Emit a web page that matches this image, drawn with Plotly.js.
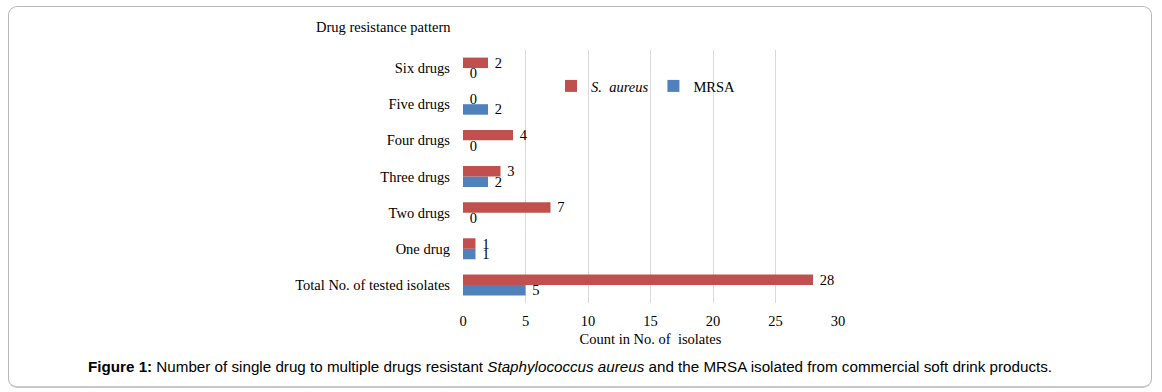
<!DOCTYPE html>
<html>
<head>
<meta charset="utf-8">
<script src="https://cdn.plot.ly/plotly-3.0.1.min.js"></script>
<style>
  html, body { margin: 0; padding: 0; background: #fff; }
  #wrap { position: relative; width: 1162px; height: 392px; }
  #chart { width: 1162px; height: 392px; }
  #frame { position: absolute; left: 8px; top: 6px; width: 1144px; height: 382px;
           border: 1px solid #b9b9b9; border-bottom: 2px solid #c8c8c8; border-radius: 9px;
           pointer-events: none; box-sizing: border-box; }
</style>
</head>
<body>
<div id="wrap">
  <div id="chart"></div>
  <div id="frame"></div>
</div>
<script>
const categories = ["Total No. of tested isolates", "One drug", "Two drugs", "Three drugs", "Four drugs", "Five drugs", "Six drugs"];
const sAureus = [28, 1, 7, 3, 4, 0, 2];
const mrsa = [5, 1, 0, 2, 0, 2, 0];
const xTicks = [0, 5, 10, 15, 20, 25, 30];

const serif = "Liberation Serif, Times New Roman, serif";
const fs = 14.5;
const pad = "\u00a0";

const traces = [
  {
    type: "bar", orientation: "h", name: "MRSA",
    y: categories, x: mrsa,
    marker: { color: "#4F81BD" },
    text: mrsa.map(v => pad + v), textposition: "outside", cliponaxis: false,
    constraintext: "none",
    textfont: { family: serif, size: fs, color: "#000" }
  },
  {
    type: "bar", orientation: "h", name: "<i>S.  aureus</i>",
    y: categories, x: sAureus,
    marker: { color: "#C0504D" },
    text: sAureus.map(v => pad + v), textposition: "outside", cliponaxis: false,
    constraintext: "none",
    textfont: { family: serif, size: fs, color: "#000" }
  }
];

const plotW = 1162 - 463 - 324, plotH = 392 - 50 - 89;
function px2paperX(px) { return (px - 463) / plotW; }
function px2paperY(py) { return (392 - 89 - py) / plotH; }

const layout = {
  width: 1162, height: 392,
  margin: { l: 463, r: 324, t: 50, b: 89 },
  paper_bgcolor: "#fff", plot_bgcolor: "#fff",
  barmode: "group", bargap: 0.42, bargroupgap: 0,
  showlegend: true,
  legend: {
    orientation: "h", traceorder: "reversed",
    x: px2paperX(551), y: px2paperY(86), xanchor: "left", yanchor: "middle",
    itemwidth: 30,
    font: { family: serif, size: fs, color: "#000" },
    bgcolor: "rgba(0,0,0,0)"
  },
  xaxis: {
    range: [0, 30], tickvals: xTicks, ticktext: xTicks.map(String),
    showgrid: true, gridcolor: "#d9d9d9", gridwidth: 1,
    zeroline: false, showline: false, ticks: "",
    ticklabelstandoff: 7,
    tickfont: { family: serif, size: fs, color: "#000" },
    title: { text: "Count in No. of  isolates", font: { family: serif, size: fs, color: "#000" }, standoff: 6 }
  },
  yaxis: {
    type: "category", categoryorder: "array", categoryarray: categories,
    showgrid: false, zeroline: false, showline: false, ticks: "",
    ticklabelstandoff: 12,
    tickfont: { family: serif, size: fs, color: "#000" }
  },
  annotations: [
    {
      text: "Drug resistance pattern", xref: "paper", yref: "paper",
      x: px2paperX(383), y: px2paperY(27), xanchor: "center", yanchor: "middle",
      showarrow: false,
      font: { family: serif, size: fs, color: "#000" }
    },
    {
      text: "<b>Figure 1:</b> Number of single drug to multiple drugs resistant <i>Staphylococcus aureus</i> and the MRSA isolated from commercial soft drink products.",
      xref: "paper", yref: "paper",
      x: px2paperX(570), y: px2paperY(367), xanchor: "center", yanchor: "middle",
      showarrow: false,
      font: { family: "Liberation Sans, Arial, sans-serif", size: 15.2, color: "#000" }
    }
  ]
};

Plotly.newPlot("chart", traces, layout, { displayModeBar: false, staticPlot: true });
</script>
</body>
</html>
